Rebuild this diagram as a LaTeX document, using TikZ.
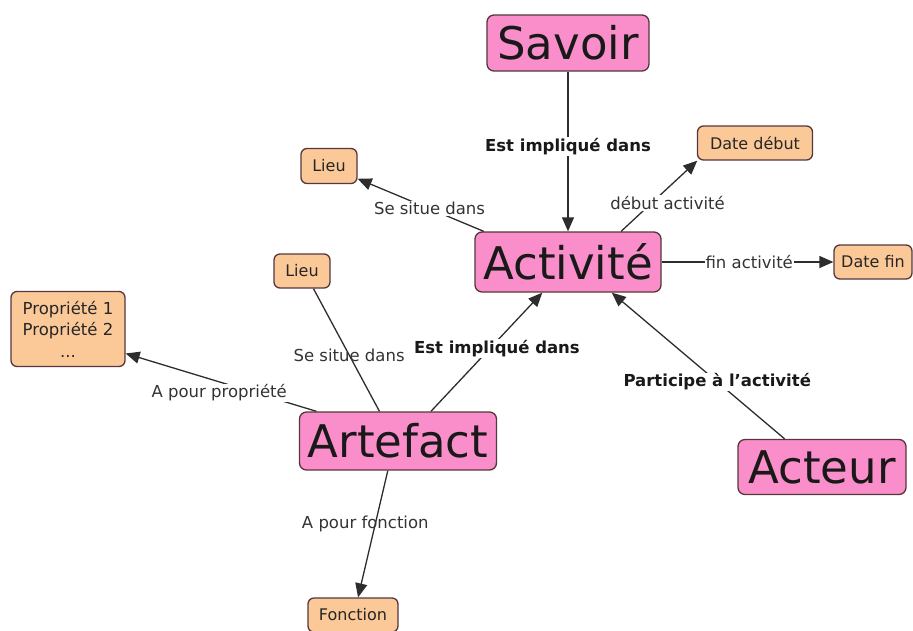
\documentclass[tikz,border=0pt]{standalone}
\usepackage{fontspec}
\setmainfont{DejaVu Sans}
\usetikzlibrary{arrows.meta}
\definecolor{pinkbox}{RGB}{249,142,202}
\definecolor{orangebox}{RGB}{251,201,152}
\definecolor{boxborder}{RGB}{85,55,60}
\definecolor{linegray}{RGB}{45,45,45}
\begin{document}
\begin{tikzpicture}[x=1pt,y=-1pt,
  bigbox/.style={draw=boxborder,line width=1.3pt,fill=pinkbox,rounded corners=7pt,
    inner sep=0pt,font=\fontsize{45}{47}\selectfont,text=black!90},
  smallbox/.style={draw=boxborder,line width=1.3pt,fill=orangebox,rounded corners=6pt,
    inner sep=0pt,font=\fontsize{16}{19}\selectfont,text=black!85,align=center},
  conn/.style={draw=linegray,line width=1.3pt},
  arr/.style={conn,-{Triangle[length=14pt,width=12pt]}},
  lbl/.style={font=\fontsize{16.5}{19}\selectfont,text=black!80,inner sep=1pt},
  blbl/.style={font=\bfseries\fontsize{16.5}{19}\selectfont,text=black!90,inner sep=1pt},
  wfill/.style={fill=white}]
\useasboundingbox (0,0) rectangle (913,630);
% main concepts
\node[bigbox,minimum width=162pt,minimum height=56pt] (sav) at (568,43) {Savoir};
\node[bigbox,minimum width=186pt,minimum height=60pt] (act) at (568,262) {Activité};
\node[bigbox,minimum width=197pt,minimum height=58pt] (art) at (398,441) {Artefact};
\node[bigbox,minimum width=168pt,minimum height=55pt] (acteur) at (822,467) {Acteur};
% secondary boxes
\node[smallbox,minimum width=56pt,minimum height=35pt] (lieuA) at (329,166) {Lieu};
\node[smallbox,minimum width=115pt,minimum height=34pt] (dd) at (755,143) {Date début};
\node[smallbox,minimum width=78pt,minimum height=34pt] (df) at (873,262) {Date fin};
\node[smallbox,minimum width=56pt,minimum height=34pt] (lieuB) at (302,271) {Lieu};
\node[smallbox,minimum width=114pt,minimum height=75pt,font=\fontsize{16.5}{21.5}\selectfont] (prop) at (68,329) {Propriété 1\\Propriété 2\\...};
\node[smallbox,minimum width=90pt,minimum height=34pt] (fon) at (353,615) {Fonction};
% connectors
\draw[arr] (sav) -- node[blbl,wfill,pos=0.47] {Est impliqué dans} (act);
\draw[arr] (act.160) -- node[lbl,wfill,pos=0.43] {Se situe dans} (lieuA.-24);
\draw[arr] (act.30) -- node[lbl,wfill,pos=0.4,xshift=16pt] {début activité} (dd.197);
\draw[arr] (act.east) -- node[lbl,wfill,pos=0.51] {fin activité} (df.west);
\draw[arr] (art.42) -- node[blbl,wfill,pos=0.53,xshift=7pt] {Est impliqué dans} (act.230);
\draw[arr] (acteur.143) -- node[blbl,wfill,pos=0.39] {Participe à l'activité} (act.-35.5);
\draw[conn] (art.122) -- node[lbl,pos=0.46] {Se situe dans} (lieuB.-57);
\draw[arr] (art.160) -- node[lbl,wfill,pos=0.51,yshift=-11pt] {A pour propriété} (prop.-23);
\draw[arr] (art.251) -- node[lbl,pos=0.42,xshift=-10pt] {A pour fonction} (fon.74);
\end{tikzpicture}
\end{document}
